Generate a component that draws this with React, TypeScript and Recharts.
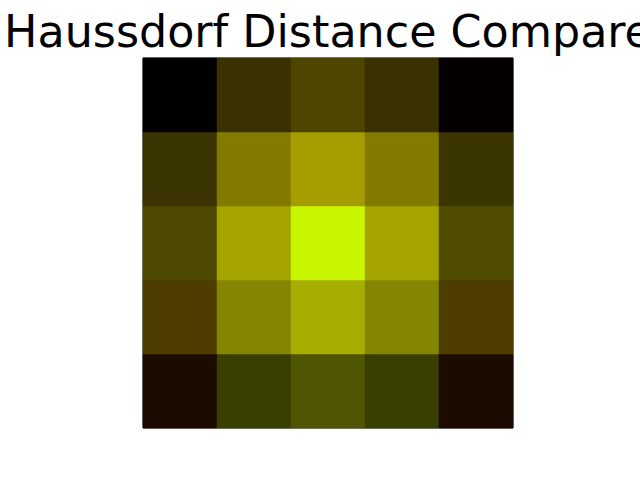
import { BarChart, Bar, Cell, XAxis, YAxis, ReferenceArea } from "recharts"

// pixel colours of the 5x5 image, top row first
const row0 = ["#020000", "#3b3100", "#4e4600", "#3b3100", "#050000"]
const row1 = ["#3a3500", "#837a00", "#a59d00", "#837a00", "#3b3500"]
const row2 = ["#4d4a00", "#a6a500", "#c8f500", "#a6a500", "#4f4c00"]
const row3 = ["#4f3c00", "#848500", "#a6ae00", "#848500", "#4f3c00"]
const row4 = ["#1c0b00", "#383f00", "#4f5500", "#383f00", "#1c0b00"]
const rows = [row0, row1, row2, row3, row4]
const columns = [0, 1, 2, 3, 4]

const title = "Haussdorf Distance Compare"

// each column is one stacked bar of five unit cells
const data = columns.map((c) => ({ col: c, r0: 1, r1: 1, r2: 1, r3: 1, r4: 1 }))

export default function App() {
  // bottom row first so it sits at the base of the stack
  const stackOrder = [4, 3, 2, 1, 0]
  return (
    <div style={{ position: "absolute", left: 0, top: 0, width: 640, height: 480, overflow: "hidden", background: "#fff" }}>
      <BarChart
        width={640}
        height={480}
        data={data}
        margin={{ top: 58, right: 127, bottom: 52, left: 143 }}
        barCategoryGap={0}
        barGap={0}
      >
        <XAxis dataKey="col" hide />
        <YAxis type="number" domain={[0, 5]} hide />
        {stackOrder.map((r) => (
          <Bar key={r} dataKey={`r${r}`} stackId="img" isAnimationActive={false}>
            {columns.map((c) => (
              <Cell key={c} fill={rows[r][c]} stroke={rows[r][c]} strokeWidth={0.5} />
            ))}
          </Bar>
        ))}
        <ReferenceArea y1={0} y2={5} fill="none" stroke="#000" strokeWidth={1} fillOpacity={0} />
      </BarChart>
      <svg width={640} height={60} style={{ position: "absolute", left: 0, top: 0 }}>
        <text x={328} y={47} textAnchor="middle" fontSize={44.4} fontFamily="DejaVu Sans" fill="#000">
          {title}
        </text>
      </svg>
    </div>
  )
}
